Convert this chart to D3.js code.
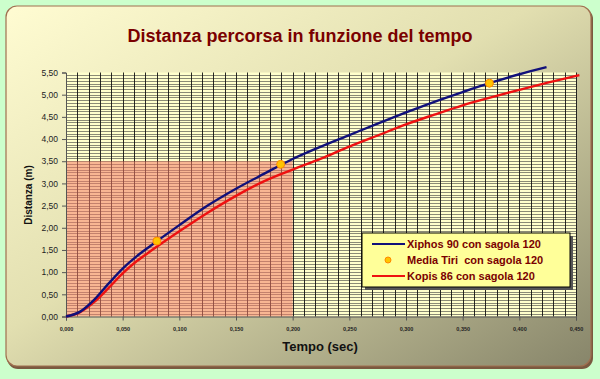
<!DOCTYPE html>
<html>
<head>
<meta charset="utf-8">
<script src="https://cdn.jsdelivr.net/npm/d3@7"></script>
<style>
  body { margin: 0; background: #ccffcc; }
  svg { display: block; font-family: "Liberation Sans", Arial, sans-serif; }
</style>
</head>
<body>
<div id="chart"></div>
<script>
// tempo (s) e distanza (m)
const xiphosT = [0, 0.0125, 0.025, 0.0375, 0.05, 0.0625, 0.075, 0.1, 0.125, 0.15, 0.175, 0.2, 0.225, 0.25, 0.275, 0.3, 0.325, 0.35, 0.375, 0.4, 0.424];
const xiphosD = [0, 0.11, 0.38, 0.74, 1.08, 1.36, 1.60, 2.06, 2.50, 2.88, 3.22, 3.55, 3.83, 4.09, 4.35, 4.60, 4.84, 5.06, 5.27, 5.46, 5.62];

const kopisT = [0, 0.0125, 0.025, 0.0375, 0.05, 0.0625, 0.075, 0.1, 0.125, 0.15, 0.175, 0.2, 0.225, 0.25, 0.275, 0.3, 0.325, 0.35, 0.375, 0.4, 0.425, 0.453];
const kopisD = [0, 0.10, 0.33, 0.64, 0.97, 1.25, 1.48, 1.92, 2.34, 2.72, 3.05, 3.31, 3.56, 3.83, 4.08, 4.33, 4.55, 4.76, 4.94, 5.11, 5.27, 5.44];

const mediaT = [0.0802, 0.1894, 0.3736];
const mediaD = [1.70, 3.43, 5.26];

// zona evidenziata
const zoneT = 0.2;
const zoneD = 3.5;

const xTicks = d3.range(0, 0.4501, 0.05);
const yTicks = d3.range(0, 5.501, 0.5);

const legendLabels = ['Xiphos 90 con sagola 120', 'Media Tiri  con sagola 120', 'Kopis 86 con sagola 120'];

const W = 600, H = 379;
const svg = d3.select('#chart').append('svg').attr('width', W).attr('height', H);

const defs = svg.append('defs');
const grad = defs.append('linearGradient').attr('id', 'bg')
    .attr('x1', '0%').attr('y1', '0%').attr('x2', '100%').attr('y2', '100%');
grad.append('stop').attr('offset', '0%').attr('stop-color', '#fffcd2');
grad.append('stop').attr('offset', '45%').attr('stop-color', '#e2dfb0');
grad.append('stop').attr('offset', '100%').attr('stop-color', '#87856a');

// cornice
svg.append('rect').attr('x', 7).attr('y', 8).attr('width', 586).attr('height', 361)
    .attr('rx', 11).attr('fill', '#7a5a40');
svg.append('rect').attr('x', 6).attr('y', 6).attr('width', 585).attr('height', 360)
    .attr('rx', 11).attr('fill', 'url(#bg)').attr('stroke', '#a07050').attr('stroke-width', 1.2);

const x = d3.scaleLinear().domain([0, 0.45]).range([66, 576]);
const y = d3.scaleLinear().domain([0, 5.5]).range([316.5, 72.5]);

const g = svg.append('g');

g.append('rect')
    .attr('x', x(0)).attr('y', y(5.5))
    .attr('width', x(0.45) - x(0)).attr('height', y(0) - y(5.5))
    .attr('fill', '#ffffcc');

// griglia
g.append('g').selectAll('line')
    .data(d3.range(1, 88).map(i => i * 0.0625))
    .join('line')
    .attr('x1', x(0)).attr('x2', x(0.45))
    .attr('y1', d => Math.round(y(d)) + 0.5).attr('y2', d => Math.round(y(d)) + 0.5)
    .attr('stroke', '#3a3a3a').attr('stroke-width', 0.6);

g.append('g').selectAll('line')
    .data(d3.range(1, 46).map(i => i * 0.01))
    .join('line')
    .attr('x1', d => Math.round(x(d)) + 0.5).attr('x2', d => Math.round(x(d)) + 0.5)
    .attr('y1', y(0)).attr('y2', y(5.5))
    .attr('stroke', '#111').attr('stroke-width', 0.9);

g.append('rect')
    .attr('x', x(0)).attr('y', y(zoneD))
    .attr('width', x(zoneT) - x(0)).attr('height', y(0) - y(zoneD))
    .attr('fill', '#f27a64').attr('fill-opacity', 0.55);

// assi
const yAxis = d3.axisLeft(y).tickValues(yTicks).tickSize(4)
    .tickFormat(d => d3.format('.2f')(d).replace('.', ','));
const yG = g.append('g').attr('transform', `translate(${x(0)},0)`).call(yAxis);
yG.select('.domain').attr('stroke', '#555');
yG.selectAll('.tick line').attr('stroke', '#555');
yG.selectAll('.tick text').attr('font-size', 8.5).attr('fill', '#222')
    .attr('font-family', '"Liberation Sans", Arial, sans-serif').attr('dx', -1);

const xAxis = d3.axisBottom(x).tickValues(xTicks).tickSize(4)
    .tickFormat(d => d3.format('.3f')(d).replace('.', ','));
const xG = g.append('g').attr('transform', `translate(0,${y(0)})`).call(xAxis);
xG.select('.domain').attr('stroke', '#555');
xG.selectAll('.tick line').attr('stroke', '#555');
xG.selectAll('.tick text').attr('font-size', 5.5).attr('font-weight', 'bold').attr('fill', '#222')
    .attr('font-family', '"Liberation Sans", Arial, sans-serif').attr('dy', '1.3em');

// curve
const line = d3.line().x(d => x(d[0])).y(d => y(d[1])).curve(d3.curveMonotoneX);

g.append('path')
    .attr('d', line(kopisT.map((t, i) => [t, kopisD[i]])))
    .attr('fill', 'none').attr('stroke', '#ee1111').attr('stroke-width', 2.4);

g.append('path')
    .attr('d', line(xiphosT.map((t, i) => [t, xiphosD[i]])))
    .attr('fill', 'none').attr('stroke', '#10107a').attr('stroke-width', 2.4);

g.append('g').selectAll('circle')
    .data(mediaT.map((t, i) => [t, mediaD[i]]))
    .join('circle')
    .attr('cx', d => x(d[0])).attr('cy', d => y(d[1])).attr('r', 4)
    .attr('fill', '#ffc400').attr('stroke', '#ff8800').attr('stroke-width', 1);

// titoli
svg.append('text').attr('x', 300).attr('y', 42).attr('text-anchor', 'middle')
    .attr('font-size', 18).attr('font-weight', 'bold').attr('fill', '#7a0000')
    .text('Distanza percorsa in funzione del tempo');

svg.append('text').attr('transform', 'translate(32,195) rotate(-90)').attr('text-anchor', 'middle')
    .attr('font-size', 10).attr('font-weight', 'bold').attr('fill', '#111')
    .text('Distanza (m)');

svg.append('text').attr('x', 320).attr('y', 351).attr('text-anchor', 'middle')
    .attr('font-size', 13).attr('font-weight', 'bold').attr('fill', '#111')
    .text('Tempo (sec)');

// legenda
const lg = svg.append('g').attr('transform', 'translate(362,233)');
lg.append('rect').attr('x', 3).attr('y', 3).attr('width', 208).attr('height', 54).attr('fill', '#555');
lg.append('rect').attr('width', 208).attr('height', 54).attr('fill', '#ffff99')
    .attr('stroke', '#000').attr('stroke-width', 1);

const items = lg.selectAll('g.item').data(legendLabels).join('g')
    .attr('class', 'item')
    .attr('transform', (d, i) => `translate(0,${11 + i * 16})`);

items.filter((d, i) => i !== 1).append('line')
    .attr('x1', 10).attr('x2', 43).attr('y1', 0).attr('y2', 0)
    .attr('stroke', (d, i) => i === 0 ? '#10107a' : '#ee1111').attr('stroke-width', 2);

items.filter((d, i) => i === 1).append('circle')
    .attr('cx', 26).attr('cy', 0).attr('r', 3)
    .attr('fill', '#ffc400').attr('stroke', '#ff8800');

items.append('text').attr('x', 45).attr('y', 4)
    .attr('font-size', 11).attr('font-weight', 'bold').attr('fill', '#7a0000')
    .attr('xml:space', 'preserve')
    .text(d => d);
</script>
</body>
</html>
